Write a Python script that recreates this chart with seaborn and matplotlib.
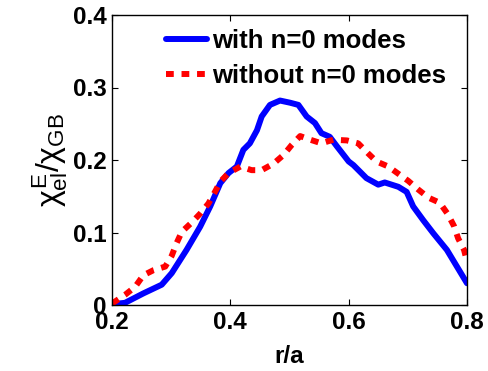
import numpy as np
import pandas as pd
import matplotlib
matplotlib.use("Agg")
import matplotlib.pyplot as plt
import seaborn as sns

# Radial profiles of the electron heat diffusivity
r_with = [0.200, 0.222, 0.253, 0.284, 0.301, 0.326, 0.349, 0.366, 0.383, 0.397,
          0.411, 0.422, 0.433, 0.445, 0.453, 0.467, 0.484, 0.501, 0.515, 0.529,
          0.543, 0.554, 0.568, 0.580, 0.600, 0.608, 0.630, 0.650, 0.661, 0.684,
          0.698, 0.709, 0.726, 0.743, 0.766, 0.783, 0.800]
chi_with = [0.001, 0.003, 0.016, 0.028, 0.044, 0.076, 0.108, 0.136, 0.168, 0.182,
            0.191, 0.214, 0.223, 0.241, 0.260, 0.276, 0.282, 0.279, 0.276, 0.260,
            0.251, 0.237, 0.232, 0.219, 0.198, 0.193, 0.175, 0.166, 0.169, 0.163,
            0.156, 0.136, 0.117, 0.099, 0.076, 0.053, 0.030]

r_without = [0.200, 0.222, 0.239, 0.253, 0.270, 0.290, 0.301, 0.309, 0.318, 0.335,
             0.349, 0.363, 0.374, 0.383, 0.397, 0.417, 0.436, 0.453, 0.473, 0.490,
             0.504, 0.518, 0.535, 0.554, 0.574, 0.597, 0.616, 0.633, 0.647, 0.667,
             0.684, 0.701, 0.718, 0.735, 0.754, 0.767, 0.778, 0.785, 0.795, 0.800]
chi_without = [0.002, 0.014, 0.025, 0.041, 0.048, 0.053, 0.068, 0.085, 0.101, 0.114,
               0.126, 0.140, 0.156, 0.170, 0.182, 0.191, 0.186, 0.186, 0.195, 0.207,
               0.221, 0.233, 0.228, 0.223, 0.228, 0.227, 0.223, 0.209, 0.198, 0.191,
               0.181, 0.171, 0.159, 0.148, 0.141, 0.126, 0.109, 0.092, 0.076, 0.060]

labels = ["with n=0 modes", "without n=0 modes"]
x_ticks = [0.2, 0.4, 0.6, 0.8]
y_ticks = [0, 0.1, 0.2, 0.3, 0.4]

df = pd.concat([
    pd.DataFrame({"r/a": r_with, "chi": chi_with, "case": labels[0]}),
    pd.DataFrame({"r/a": r_without, "chi": chi_without, "case": labels[1]}),
], ignore_index=True)

sns.set_theme(style="ticks")
plt.rcParams["font.family"] = ["Liberation Sans", "DejaVu Sans"]
plt.rcParams["mathtext.fontset"] = "custom"
plt.rcParams["mathtext.rm"] = "Liberation Sans"
plt.rcParams["mathtext.it"] = "Liberation Sans"
plt.rcParams["mathtext.bf"] = "Liberation Sans:bold"
for key in ["text.color", "axes.labelcolor", "xtick.color", "ytick.color",
            "axes.edgecolor"]:
    plt.rcParams[key] = "black"

fig = plt.figure(figsize=(4.88, 3.71), dpi=100)
ax = fig.add_axes([112 / 488, 1 - 305 / 371, 355 / 488, 290 / 371])

sns.lineplot(data=df, x="r/a", y="chi", hue="case", style="case",
             palette={labels[0]: "#0000ff", labels[1]: "#ff0000"},
             dashes={labels[0]: "", labels[1]: (1.3, 1.3)},
             linewidth=4.3, sort=False, estimator=None, ax=ax, legend=True)

ax.set_xlim(0.2, 0.8)
ax.set_ylim(0, 0.4)
ax.set_xticks(x_ticks)
ax.set_yticks(y_ticks)
ax.set_xticklabels(["0.2", "0.4", "0.6", "0.8"])
ax.set_yticklabels(["0", "0.1", "0.2", "0.3", "0.4"])
ax.tick_params(direction="in", top=True, right=True, length=4, width=0.8,
               labelsize=17.5, pad=4, colors="black")
for lab in ax.get_xticklabels() + ax.get_yticklabels():
    lab.set_fontweight("bold")
for s in ax.spines.values():
    s.set_linewidth(1.0)
    s.set_color("black")

ax.set_xlabel("r/a", fontsize=17.5, fontweight="bold", labelpad=8)
ax.set_ylabel(r"$\chi^{E}_{el}/\chi_{GB}$", fontsize=23, labelpad=2)

handles, _ = ax.get_legend_handles_labels()
leg = ax.legend(handles=handles, labels=labels, loc="upper left",
                bbox_to_anchor=(166 / 488, 1 - 29 / 371),
                bbox_transform=fig.transFigure, frameon=False,
                prop={"weight": "bold", "size": 18.5}, handlelength=1.6,
                handletextpad=0.2, labelspacing=0.42, borderaxespad=0,
                borderpad=0)

fig.savefig("out.png", dpi=100)
